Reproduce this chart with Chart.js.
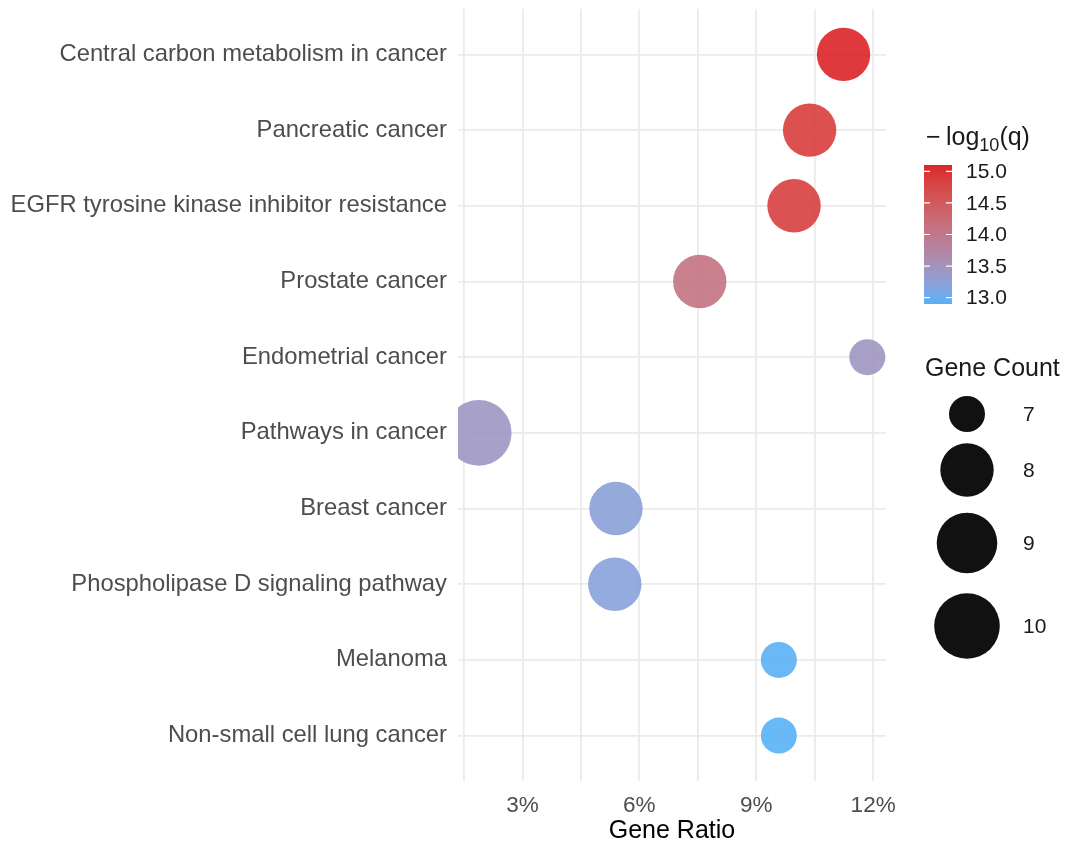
<!DOCTYPE html>
<html>
<head>
<meta charset="utf-8">
<script src="https://cdn.jsdelivr.net/npm/chart.js@4.4.1/dist/chart.umd.min.js"></script>
<style>
  html, body { margin: 0; padding: 0; background: #fff; }
  canvas { display: block; }
</style>
</head>
<body>
<canvas id="dotChart" width="1070" height="844"></canvas>
<script>
// KEGG pathways, listed top to bottom
const pathways = [
  "Central carbon metabolism in cancer",
  "Pancreatic cancer",
  "EGFR tyrosine kinase inhibitor resistance",
  "Prostate cancer",
  "Endometrial cancer",
  "Pathways in cancer",
  "Breast cancer",
  "Phospholipase D signaling pathway",
  "Melanoma",
  "Non-small cell lung cancer"
];
const geneRatio = [11.24, 10.37, 9.97, 7.55, 11.85, 1.88, 5.40, 5.37, 9.58, 9.58]; // %
const geneCount = [8, 8, 8, 8, 7, 10, 8, 8, 7, 7];
const negLogQ = [15.1, 14.88, 14.85, 14.1, 13.45, 13.42, 13.22, 13.2, 12.92, 12.9];

const ratioTicks = [1.5, 3, 4.5, 6, 7.5, 9, 10.5, 12];
const colorTicks = [13.0, 13.5, 14.0, 14.5, 15.0];
const sizeTicks = [7, 8, 9, 10];

// point radius (px) for each gene count
const countRadius = { 7: 18, 8: 26.7, 9: 30.3, 10: 32.8 };

const FONT = '"Liberation Sans", Arial, Helvetica, sans-serif';
const LOW = '#56B1F7';
const HIGH = '#DB2428';

// colour gradient interpolated in CIELAB, like ggplot's scale_colour_gradient
function hexToLab(hex) {
  const n = parseInt(hex.slice(1), 16);
  const rgb = [(n >> 16) & 255, (n >> 8) & 255, n & 255].map(c => {
    c /= 255;
    return c <= 0.04045 ? c / 12.92 : Math.pow((c + 0.055) / 1.055, 2.4);
  });
  const x = (rgb[0] * 0.4124 + rgb[1] * 0.3576 + rgb[2] * 0.1805) / 0.95047;
  const y = rgb[0] * 0.2126 + rgb[1] * 0.7152 + rgb[2] * 0.0722;
  const z = (rgb[0] * 0.0193 + rgb[1] * 0.1192 + rgb[2] * 0.9505) / 1.08883;
  const f = t => t > 0.008856 ? Math.cbrt(t) : 7.787 * t + 16 / 116;
  const fx = f(x), fy = f(y), fz = f(z);
  return [116 * fy - 16, 500 * (fx - fy), 200 * (fy - fz)];
}
function labToRgb(lab) {
  const fy = (lab[0] + 16) / 116, fx = fy + lab[1] / 500, fz = fy - lab[2] / 200;
  const inv = t => t * t * t > 0.008856 ? t * t * t : (t - 16 / 116) / 7.787;
  const x = inv(fx) * 0.95047, y = inv(fy), z = inv(fz) * 1.08883;
  const r = x * 3.2406 - y * 1.5372 - z * 0.4986;
  const g = -x * 0.9689 + y * 1.8758 + z * 0.0415;
  const b = x * 0.0557 - y * 0.2040 + z * 1.0570;
  return [r, g, b].map(c => {
    c = c <= 0.0031308 ? 12.92 * c : 1.055 * Math.pow(c, 1 / 2.4) - 0.055;
    return Math.round(Math.max(0, Math.min(1, c)) * 255);
  });
}
const lowLab = hexToLab(LOW), highLab = hexToLab(HIGH);
const qMin = Math.min(...negLogQ), qMax = Math.max(...negLogQ);
function qColor(v, alpha) {
  const t = Math.max(0, Math.min(1, (v - qMin) / (qMax - qMin)));
  const c = labToRgb(lowLab.map((l, k) => l + (highLab[k] - l) * t));
  return `rgba(${c[0]},${c[1]},${c[2]},${alpha})`;
}

// colour bar and size key on the right
const sideLegends = {
  id: 'sideLegends',
  afterDraw(chart) {
    const ctx = chart.ctx;
    ctx.save();
    ctx.fillStyle = '#1a1a1a';
    ctx.textAlign = 'left';
    ctx.textBaseline = 'alphabetic';

    // title: − log10(q)
    ctx.font = `25px ${FONT}`;
    ctx.fillText('\u2212', 926, 145);
    let tx = 946;
    ctx.fillText('log', tx, 145);
    tx += ctx.measureText('log').width;
    ctx.font = `18px ${FONT}`;
    ctx.fillText('10', tx, 151);
    tx += ctx.measureText('10').width;
    ctx.font = `25px ${FONT}`;
    ctx.fillText('(q)', tx, 145);

    // gradient bar
    const bx = 924, bw = 28, top = 165, bot = 304;
    const grad = ctx.createLinearGradient(0, bot, 0, top);
    for (let i = 0; i <= 20; i++) {
      grad.addColorStop(i / 20, qColor(qMin + (qMax - qMin) * i / 20, 1));
    }
    ctx.fillStyle = grad;
    ctx.fillRect(bx, top, bw, bot - top);

    const yOf = v => bot - (v - qMin) / (qMax - qMin) * (bot - top);
    ctx.strokeStyle = '#ffffff';
    ctx.lineWidth = 1.2;
    ctx.font = `21px ${FONT}`;
    ctx.textBaseline = 'middle';
    ctx.fillStyle = '#1a1a1a';
    colorTicks.forEach(v => {
      const y = yOf(v);
      ctx.beginPath();
      ctx.moveTo(bx, y); ctx.lineTo(bx + 6, y);
      ctx.moveTo(bx + bw - 6, y); ctx.lineTo(bx + bw, y);
      ctx.stroke();
      ctx.fillText(v.toFixed(1), 966, y + 1);
    });

    // size key
    ctx.textBaseline = 'alphabetic';
    ctx.font = `25px ${FONT}`;
    ctx.fillText('Gene Count', 925, 376);
    const keyY = [414, 470, 543, 626];
    ctx.font = `21px ${FONT}`;
    ctx.textBaseline = 'middle';
    sizeTicks.forEach((n, i) => {
      ctx.fillStyle = '#111111';
      ctx.beginPath();
      ctx.arc(967, keyY[i], countRadius[n], 0, Math.PI * 2);
      ctx.fill();
      ctx.fillStyle = '#1a1a1a';
      ctx.fillText(String(n), 1023, keyY[i] + 1);
    });
    ctx.restore();
  }
};

const ctx = document.getElementById('dotChart').getContext('2d');
new Chart(ctx, {
  type: 'bubble',
  data: {
    datasets: [{
      data: pathways.map((p, i) => ({ x: geneRatio[i], y: i, r: countRadius[geneCount[i]] })),
      backgroundColor: negLogQ.map(v => qColor(v, 0.9)),
      borderWidth: 0,
      hoverRadius: 0,
      clip: 0
    }]
  },
  options: {
    responsive: false,
    animation: false,
    devicePixelRatio: 1,
    layout: { autoPadding: false, padding: { top: 9, right: 184, left: 0, bottom: 0 } },
    plugins: { legend: { display: false }, tooltip: { enabled: false } },
    scales: {
      x: {
        type: 'linear',
        min: 1.346,
        max: 12.33,
        afterBuildTicks: s => { s.ticks = ratioTicks.map(v => ({ value: v })); },
        afterFit: s => { s.height = 63; s.paddingLeft = 0; s.paddingRight = 0; },
        grid: { color: '#EBEBEB', lineWidth: 1.8, drawTicks: false },
        border: { display: false },
        ticks: {
          padding: 11,
          color: '#4D4D4D',
          font: { family: FONT, size: 22.5 },
          callback: v => (v % 3 === 0 ? v + '%' : '')
        },
        title: {
          display: true,
          text: 'Gene Ratio',
          color: '#000000',
          font: { family: FONT, size: 25, lineHeight: 1 },
          padding: { top: 0, bottom: 0 }
        }
      },
      y: {
        type: 'linear',
        reverse: true,
        min: -0.6,
        max: 9.6,
        afterBuildTicks: s => { s.ticks = pathways.map((p, i) => ({ value: i })); },
        afterFit: s => { s.width = 458; s.paddingTop = 0; s.paddingBottom = 0; },
        grid: { color: '#EBEBEB', lineWidth: 1.8, drawTicks: false },
        border: { display: false },
        ticks: {
          padding: 11,
          color: '#4D4D4D',
          font: { family: FONT, size: 23.8 },
          callback: v => pathways[v]
        }
      }
    }
  },
  plugins: [sideLegends]
});
</script>
</body>
</html>
